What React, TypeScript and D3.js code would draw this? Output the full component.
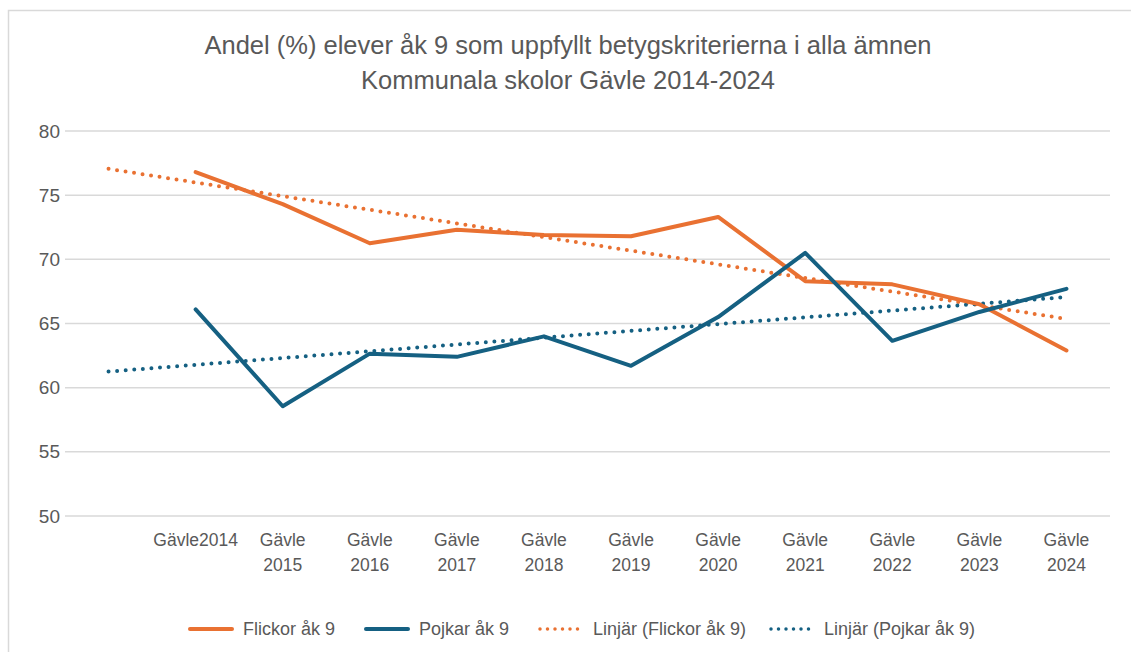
import React from "react";
import * as d3 from "d3";

const categories = ["", "Gävle2014", "Gävle 2015", "Gävle 2016", "Gävle 2017", "Gävle 2018", "Gävle 2019", "Gävle 2020", "Gävle 2021", "Gävle 2022", "Gävle 2023", "Gävle 2024"];
const flickor = [null, 76.8, 74.3, 71.25, 72.3, 71.9, 71.8, 73.3, 68.3, 68.05, 66.5, 62.9];
const pojkar = [null, 66.1, 58.55, 62.65, 62.4, 64.0, 61.7, 65.5, 70.5, 63.65, 65.9, 67.7];
const yTicks = [50, 55, 60, 65, 70, 75, 80];
const titleLines = ["Andel (%) elever åk 9 som uppfyllt betygskriterierna i alla ämnen", "Kommunala skolor Gävle 2014-2024"];
const seriesNames = ["Flickor åk 9", "Pojkar åk 9", "Linjär (Flickor åk 9)", "Linjär (Pojkar åk 9)"];

const ORANGE = "#E97132";
const BLUE = "#156082";
const TEXT = "#595959";
const GRID = "#D9D9D9";
const FONT = "'Liberation Sans', Arial, sans-serif";

function trend(vals: (number | null)[]) {
  const pts = vals.map((v, i) => [i, v] as [number, number | null]).filter((p) => p[1] != null) as [number, number][];
  const mx = d3.mean(pts, (p) => p[0])!;
  const my = d3.mean(pts, (p) => p[1])!;
  const sxy = d3.sum(pts, (p) => (p[0] - mx) * (p[1] - my));
  const sxx = d3.sum(pts, (p) => (p[0] - mx) ** 2);
  const b = sxy / sxx;
  const a = my - b * mx;
  return vals.map((_, i) => a + b * i);
}

export default function App() {
  const x = d3.scaleBand<string>().domain(categories.map((c, i) => String(i))).range([65, 1110]).padding(0);
  const cx = (i: number) => x(String(i))! + x.bandwidth() / 2;
  const y = d3.scaleLinear().domain([50, 80]).range([516, 131]);

  const line = d3
    .line<[number, number | null]>()
    .defined((d) => d[1] != null)
    .x((d) => cx(d[0]))
    .y((d) => y(d[1] as number));

  const fPath = line(flickor.map((v, i) => [i, v]))!;
  const pPath = line(pojkar.map((v, i) => [i, v]))!;
  const fTrend = line(trend(flickor).map((v, i) => [i, v]))!;
  const pTrend = line(trend(pojkar).map((v, i) => [i, v]))!;

  const legendItems = [
    { name: seriesNames[0], color: ORANGE, dotted: false, x: 190 },
    { name: seriesNames[1], color: BLUE, dotted: false, x: 366 },
    { name: seriesNames[2], color: ORANGE, dotted: true, x: 540 },
    { name: seriesNames[3], color: BLUE, dotted: true, x: 771 },
  ];

  return (
    <svg width={1131} height={652} style={{ position: "absolute", left: 0, top: 0, background: "#fff" }} fontFamily={FONT}>
      <rect x={8.5} y={10.5} width={1140} height={660} fill="#fff" stroke={GRID} strokeWidth={1.5} />
      {titleLines.map((t, i) => (
        <text key={i} x={568} y={54 + i * 35} textAnchor="middle" fontSize={25.5} fill={TEXT}>
          {t}
        </text>
      ))}
      {yTicks.map((t) => (
        <g key={t}>
          <line x1={65} x2={1110} y1={y(t)} y2={y(t)} stroke={GRID} strokeWidth={1.5} />
          <text x={60} y={y(t)} dy="0.35em" textAnchor="end" fontSize={19} fill={TEXT}>
            {t}
          </text>
        </g>
      ))}
      {categories.map((c, i) => {
        if (!c) return null;
        const parts = c.split(" ");
        return (
          <text key={i} x={cx(i)} y={546} textAnchor="middle" fontSize={17.5} fill={TEXT}>
            {parts.map((p, j) => (
              <tspan key={j} x={cx(i)} dy={j === 0 ? 0 : 25}>
                {p}
              </tspan>
            ))}
          </text>
        );
      })}
      <path d={fTrend} fill="none" stroke={ORANGE} strokeWidth={4} strokeDasharray="0 8.6" strokeLinecap="round" />
      <path d={pTrend} fill="none" stroke={BLUE} strokeWidth={4} strokeDasharray="0 8.6" strokeLinecap="round" />
      <path d={fPath} fill="none" stroke={ORANGE} strokeWidth={4} strokeLinejoin="round" strokeLinecap="round" />
      <path d={pPath} fill="none" stroke={BLUE} strokeWidth={4} strokeLinejoin="round" strokeLinecap="round" />
      {legendItems.map((it, i) => (
        <g key={i}>
          <line
            x1={it.x}
            x2={it.x + 42}
            y1={629}
            y2={629}
            stroke={it.color}
            strokeWidth={it.dotted ? 3.5 : 4}
            strokeDasharray={it.dotted ? "0 7.5" : undefined}
            strokeLinecap="round"
          />
          <text x={it.x + 53} y={629} dy="0.35em" fontSize={18} fill={TEXT}>
            {it.name}
          </text>
        </g>
      ))}
    </svg>
  );
}
